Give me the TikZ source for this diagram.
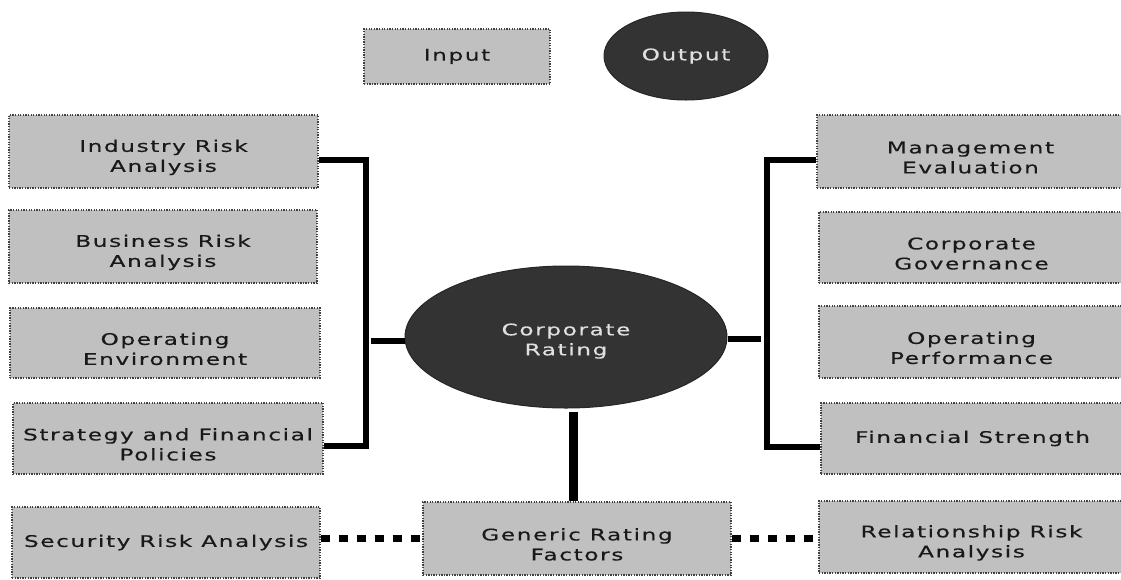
\documentclass[tikz,border=0pt]{standalone}
\usepackage{fontspec}
\setmainfont{DejaVu Sans}[FakeStretch=1.45,LetterSpace=10,FakeBold=0.4]
\usetikzlibrary{shapes.geometric}
\definecolor{boxgray}{HTML}{C0C0C0}
\definecolor{darkfill}{HTML}{333333}
\newcommand\dnrule{\rule{0pt}{24pt}}
\newcommand\ovrule{\rule{0pt}{20pt}}
\begin{document}
\begin{tikzpicture}[x=1pt,y=-1pt,
  txt/.style={font=\fontsize{16}{20}\selectfont, align=center},
  box/.style={txt, draw=black!75, fill=boxgray, line width=1.3pt,
    dash pattern=on 1.3pt off 1.3pt, inner sep=0pt, text=black!90},
  oval/.style={txt, ellipse, draw=black!85, fill=darkfill, line width=1pt,
    inner sep=0pt, text=white!88!black},
  bar/.style={line width=6pt, line join=miter, line cap=butt},
  dots/.style={line width=7pt, dash pattern=on 9pt off 9pt}
]
\useasboundingbox (0,0) rectangle (1121,579);

% legend
\node[box, minimum width=186, minimum height=55] (inp) at (457,56.5) {Input};
\node[oval, minimum width=164, minimum height=88] (out) at (686,56) {Output};

% left column
\node[box, minimum width=309, minimum height=73] (ind) at (163.5,151.5) {\dnrule Industry Risk\\Analysis};
\node[box, minimum width=308, minimum height=73] (bus) at (163,246.5) {\dnrule Business Risk\\Analysis};
\node[box, minimum width=310, minimum height=70] (ope) at (165,343) {\dnrule Operating\\Environment};
\node[box, minimum width=310, minimum height=71] (str) at (168,438.5) {\dnrule Strategy and Financial\\Policies};
\node[box, minimum width=308, minimum height=71] (sec) at (166,542.5) {Security Risk Analysis};

% right column
\node[box, minimum width=307, minimum height=73] (mgt) at (970.5,151.5) {\dnrule Management\\Evaluation};
\node[box, minimum width=305, minimum height=71] (cgv) at (971.5,247.5) {\dnrule Corporate\\Governance};
\node[box, minimum width=305, minimum height=72] (opp) at (971.5,342) {\dnrule Operating\\Performance};
\node[box, minimum width=303, minimum height=71] (fin) at (972.5,438.5) {Financial Strength};
\node[box, minimum width=305, minimum height=72] (rel) at (971.5,537) {\dnrule Relationship Risk\\Analysis};

% centre
\node[oval, minimum width=322, minimum height=142] (cr) at (566,337) {\ovrule Corporate\\Rating};
\node[box, minimum width=308, minimum height=73] (gen) at (577,538.5) {\dnrule Generic Rating\\Factors};

% connector helpers
\coordinate (lt) at (366,160);
\coordinate (lb) at (366,446);
\coordinate (lm) at (371,341);
\coordinate (rt) at (766.5,160);
\coordinate (rb) at (766.5,447);
\coordinate (rm) at (761,339);
\coordinate (cv) at (573.5,0);
\coordinate (dl) at (0,538);

% left bracket
\draw[bar] (ind.east |- lt) -- (lt) -- (lb) -- (str.east |- lb);
\draw[bar] (lm) -- (cr.west |- lm);
% right bracket
\draw[bar] (mgt.west |- rt) -- (rt) -- (rb) -- (fin.west |- rb);
\draw[bar] (cr.east |- rm) -- (rm);
% vertical link
\draw[line width=8.5pt, shorten <=3pt] (cr.south -| cv) -- (gen.north -| cv);
% dotted links
\draw[dots] (sec.east |- dl) -- (gen.west |- dl);
\draw[dots] (gen.east |- dl) -- (rel.west |- dl);
\end{tikzpicture}
\end{document}
